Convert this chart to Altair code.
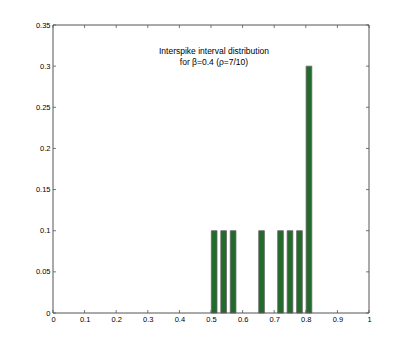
import altair as alt
import pandas as pd

# Data
centers = [0.51, 0.54, 0.57, 0.66, 0.72, 0.75, 0.78, 0.81]
probs = [0.1, 0.1, 0.1, 0.1, 0.1, 0.1, 0.1, 0.3]
bar_halfwidth = 0.009
x_ticks = [0, 0.1, 0.2, 0.3, 0.4, 0.5, 0.6, 0.7, 0.8, 0.9, 1]
y_ticks = [0, 0.05, 0.1, 0.15, 0.2, 0.25, 0.3, 0.35]
title_line1 = "Interspike interval distribution"
title_line2 = "for β=0.4 (ρ=7/10)"

W, H = 316, 288
FONT = "Liberation Sans"

bars_df = pd.DataFrame({"c": centers, "p": probs})
bars_df["x0"] = bars_df["c"] - bar_halfwidth
bars_df["x1"] = bars_df["c"] + bar_halfwidth
xt = pd.DataFrame({"v": x_ticks})
yt = pd.DataFrame({"v": y_ticks})

xscale = alt.Scale(domain=[0, 1], nice=False, zero=False)
yscale = alt.Scale(domain=[0, 0.35], nice=False, zero=False)

axis_x = alt.Axis(values=x_ticks, title=None, grid=False, ticks=False, domain=False,
                  labelFont=FONT, labelFontSize=7.5, labelColor="#000", labelPadding=2,
                  labelExpr="format(datum.value, '')", labelFlush=False, labelOverlap=False,
                  labelBound=False)
axis_y = alt.Axis(values=y_ticks, title=None, grid=False, ticks=False, domain=False,
                  labelFont=FONT, labelFontSize=7.5, labelColor="#000", labelPadding=3,
                  labelExpr="format(datum.value, '')", labelOverlap=False, labelFlush=False)

bars = alt.Chart(bars_df).mark_rect(
    color="#236b2b", stroke="#666666", strokeWidth=0.8
).encode(
    x=alt.X("x0:Q", scale=xscale, axis=axis_x),
    x2="x1:Q",
    y=alt.Y("p:Q", scale=yscale, axis=axis_y),
    y2=alt.datum(0),
)

frame = alt.Chart(pd.DataFrame({"a": [0]})).mark_rect(
    fill=None, stroke="#555555", strokeWidth=1
).encode(x=alt.value(0), x2=alt.value(W), y=alt.value(0), y2=alt.value(H))

tick_col = "#555555"
xb = alt.Chart(xt).mark_rule(color=tick_col, strokeWidth=0.8).encode(
    x=alt.X("v:Q", scale=xscale, axis=axis_x), y=alt.value(H), y2=alt.value(H - 3))
xtp = alt.Chart(xt).mark_rule(color=tick_col, strokeWidth=0.8).encode(
    x=alt.X("v:Q", scale=xscale, axis=axis_x), y=alt.value(0), y2=alt.value(3))
yl = alt.Chart(yt).mark_rule(color=tick_col, strokeWidth=0.8).encode(
    y=alt.Y("v:Q", scale=yscale, axis=axis_y), x=alt.value(0), x2=alt.value(3))
yr = alt.Chart(yt).mark_rule(color=tick_col, strokeWidth=0.8).encode(
    y=alt.Y("v:Q", scale=yscale, axis=axis_y), x=alt.value(W), x2=alt.value(W - 3))

one = pd.DataFrame({"a": [0]})
t1 = alt.Chart(one).mark_text(
    font=FONT, fontSize=8.5, color="#000", align="center", baseline="middle",
    text=title_line1,
).encode(x=alt.value(161), y=alt.value(26))
t2 = alt.Chart(one).mark_text(
    font=FONT, fontSize=8.5, color="#000", align="center", baseline="middle",
    text=title_line2,
).encode(x=alt.value(161), y=alt.value(37))

chart = alt.layer(bars, xb, xtp, yl, yr, frame, t1, t2).properties(
    width=W, height=H,
    autosize=alt.AutoSizeParams(type="none"),
    padding={"left": 45, "top": 17, "right": 30, "bottom": 30},
).configure_view(stroke=None).configure_axis(labelOverlap=False)

chart.save("out.html", embed_options={"renderer": "svg", "actions": False})
